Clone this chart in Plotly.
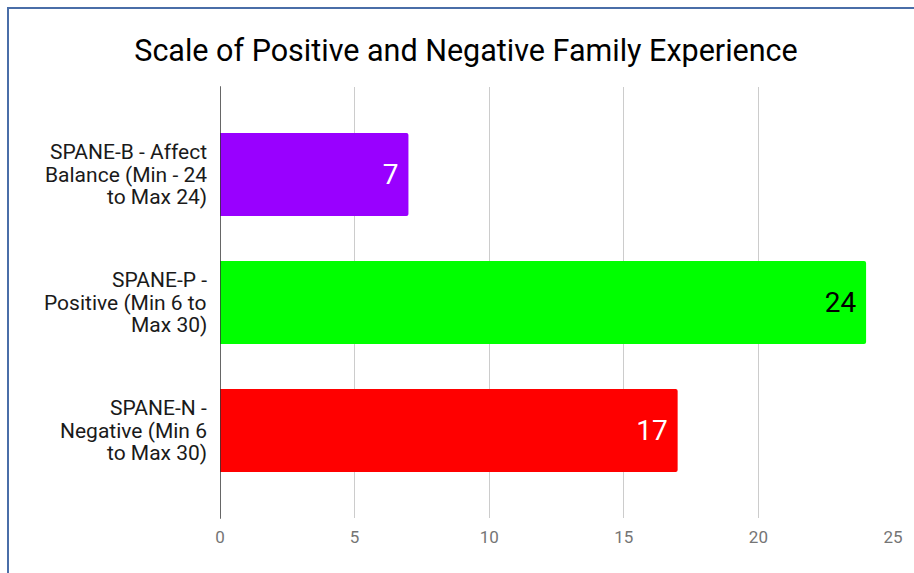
import plotly.graph_objects as go

categories = [
    "SPANE-B - Affect<br>Balance (Min - 24<br>to Max 24)",
    "SPANE-P -<br>Positive (Min 6 to<br>Max 30)",
    "SPANE-N -<br>Negative (Min 6<br>to Max 30)",
]
values = [7, 24, 17]
bar_colors = ["#9900ff", "#00ff00", "#ff0000"]
label_colors = ["#ffffff", "#000000", "#ffffff"]
x_ticks = [0, 5, 10, 15, 20, 25]

W, H = 914, 573
L, R, T, B = 220, 21, 87, 55
pw, ph = W - L - R, H - T - B

fig = go.Figure()
fig.add_trace(go.Bar(
    x=values, y=categories, orientation="h",
    marker=dict(color=bar_colors, line=dict(width=0)),
    text=[str(v) + "\u00a0" for v in values],
    textposition="inside", insidetextanchor="end",
    textfont=dict(family="Roboto", size=28, color=label_colors),
    width=0.65,
    hoverinfo="skip",
))

top = -87.5 / 128
bottom = top + ph / 128

# category labels with tight line spacing
annotations = []
for cat in categories:
    lines = cat.split("<br>")
    n = len(lines)
    for i, line in enumerate(lines):
        annotations.append(dict(
            xref="paper", yref="y", x=0, y=cat, xanchor="right", yanchor="middle",
            xshift=-11, yshift=((n - 1) / 2 - i) * 22.5, text=line, showarrow=False,
            font=dict(family="Roboto", size=21, color="#1a1a1a"),
        ))

fig.update_layout(
    width=W, height=H,
    margin=dict(l=L, r=R, t=T, b=B),
    paper_bgcolor="white", plot_bgcolor="white",
    showlegend=False,
    barcornerradius=2,
    title=dict(text="Scale of Positive and Negative Family Experience",
               x=466 / W, xanchor="center", y=1 - 50 / H, yanchor="middle",
               font=dict(family="Roboto", size=30.5, color="#000000")),
    xaxis=dict(range=[0, 25], tickvals=x_ticks, showgrid=True,
               gridcolor="#cccccc", gridwidth=1, zeroline=False,
               showline=False, ticks="",
               tickfont=dict(family="Roboto", size=17, color="#757575"),
               ticklabelstandoff=7, fixedrange=True),
    yaxis=dict(range=[bottom, top], showgrid=False, zeroline=False,
               showline=False, ticks="", showticklabels=False,
               fixedrange=True),
    annotations=annotations,
    shapes=[
        dict(type="line", xref="x", yref="paper", x0=0, x1=0, y0=-0.002, y1=1.002,
             line=dict(color="#333333", width=1.5)),
        dict(type="rect", xref="paper", yref="paper",
             x0=(8 - L) / pw, x1=(W + 20 - L) / pw,
             y0=(H - B - (H + 20)) / ph, y1=(H - B - 8) / ph,
             line=dict(color="#4a6ea8", width=2), fillcolor="rgba(0,0,0,0)",
             layer="above"),
    ],
)

fig.write_html("out.html")
